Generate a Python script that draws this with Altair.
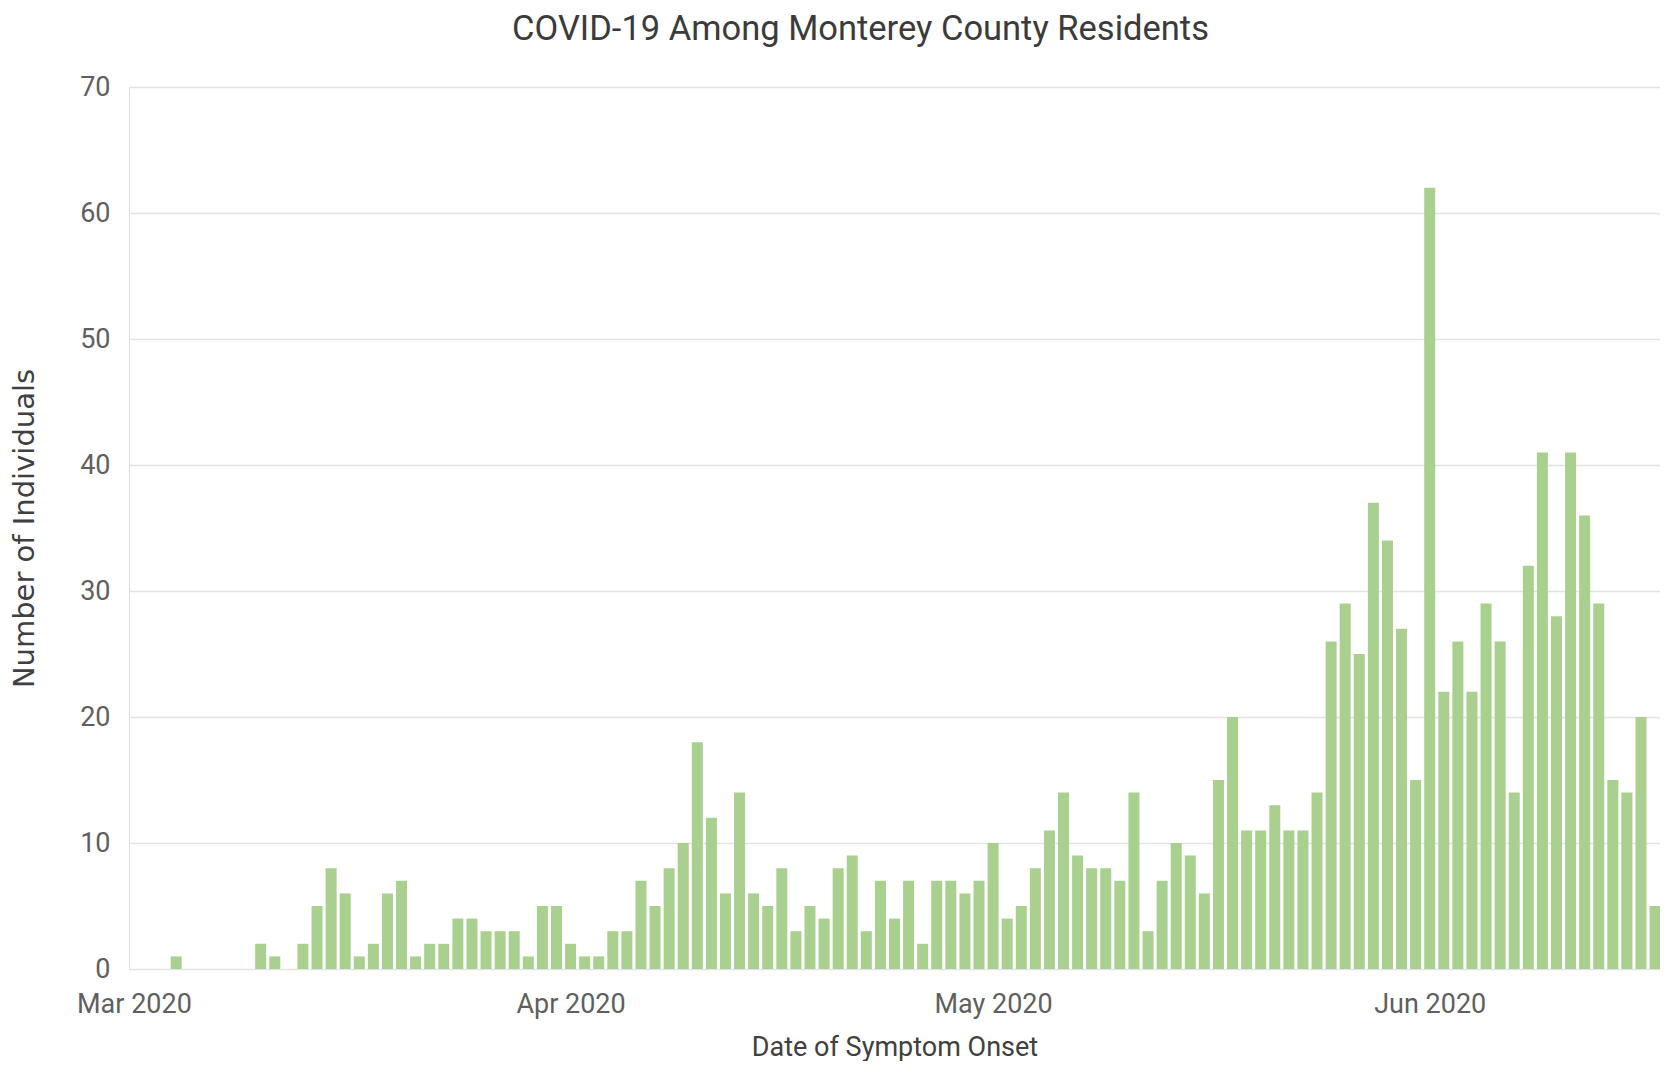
import altair as alt
import pandas as pd

# Daily counts from 2020-03-01 through 2020-06-17
start_date = "2020-03-01"
march = [0, 0, 0, 1, 0, 0, 0, 0, 0, 2, 1, 0, 2, 5, 8, 6, 1, 2, 6, 7, 1, 2, 2, 4, 4, 3, 3, 3, 1, 5, 5]
april = [2, 1, 1, 3, 3, 7, 5, 8, 10, 18, 12, 6, 14, 6, 5, 8, 3, 5, 4, 8, 9, 3, 7, 4, 7, 2, 7, 7, 6, 7]
may = [10, 4, 5, 8, 11, 14, 9, 8, 8, 7, 14, 3, 7, 10, 9, 6, 15, 20, 11, 11, 13, 11, 11, 14, 26, 29, 25, 37, 34, 27, 15]
june = [62, 22, 26, 22, 29, 26, 14, 32, 41, 28, 41, 36, 29, 15, 14, 20, 5]

counts = march + april + may + june
dates = pd.date_range(start_date, periods=len(counts), freq="D").strftime("%Y-%m-%d")
df = pd.DataFrame({"date": dates, "count": counts})
df = df[df["count"] > 0]

FONT = "Roboto"

tick_values = [
    alt.DateTime(year=2020, month=3, date=1, utc=True),
    alt.DateTime(year=2020, month=4, date=1, utc=True),
    alt.DateTime(year=2020, month=5, date=1, utc=True),
    alt.DateTime(year=2020, month=6, date=1, utc=True),
]

chart = (
    alt.Chart(df)
    .mark_bar(color="#A9D08E", width=11)
    .encode(
        x=alt.X(
            "date:T",
            scale=alt.Scale(
                type="utc",
                padding=0,
                domain=[
                    alt.DateTime(year=2020, month=2, date=29, hours=15, minutes=36, utc=True),
                    alt.DateTime(year=2020, month=6, date=17, hours=8, minutes=24, utc=True),
                ],
            ),
            axis=alt.Axis(
                title="Date of Symptom Onset",
                values=tick_values,
                labelExpr="utcFormat(datum.value, '%b %Y')",
                grid=False,
                domain=False,
                ticks=False,
                tickSize=0,
                labelPadding=22,
                labelFont=FONT,
                labelFontSize=27,
                labelColor="#5f5f5f",
                titleFont=FONT,
                titleFontSize=27,
                titleFontWeight="normal",
                titleColor="#404040",
                titleBaseline="alphabetic",
                titleY=86,
            ),
        ),
        y=alt.Y(
            "count:Q",
            scale=alt.Scale(domain=[0, 70], nice=False),
            axis=alt.Axis(
                title="Number of Individuals",
                values=[0, 10, 20, 30, 40, 50, 60, 70],
                grid=True,
                gridColor="#e3e3e3",
                gridWidth=1.6,
                domain=False,
                ticks=False,
                tickSize=0,
                labelPadding=19,
                labelFont=FONT,
                labelFontSize=27,
                labelColor="#5f5f5f",
                titleFont="DejaVu Sans",
                titleFontSize=29,
                titleFontWeight="normal",
                titleColor="#404040",
                titleAngle=-90,
                titleBaseline="alphabetic",
                titleAlign="center",
                titleX=-96,
                titleY=441,
            ),
        ),
    )
    .properties(
        width=1531,
        height=882,
        padding={"left": 121, "top": 79, "right": 0, "bottom": 92},
        autosize=alt.AutoSizeParams(type="none"),
        title=alt.TitleParams(
            text="COVID-19 Among Monterey County Residents",
            anchor="middle",
            frame="group",
            orient="top",
            baseline="alphabetic",
            offset=26,
            dy=27,
            dx=-34,
            font=FONT,
            fontSize=34.5,
            fontWeight="normal",
            color="#3b3b3b",
        ),
    )
    .configure_view(strokeWidth=0)
    .configure(background="white")
)

chart.save("out.html", embed_options={"renderer": "svg", "actions": False})
